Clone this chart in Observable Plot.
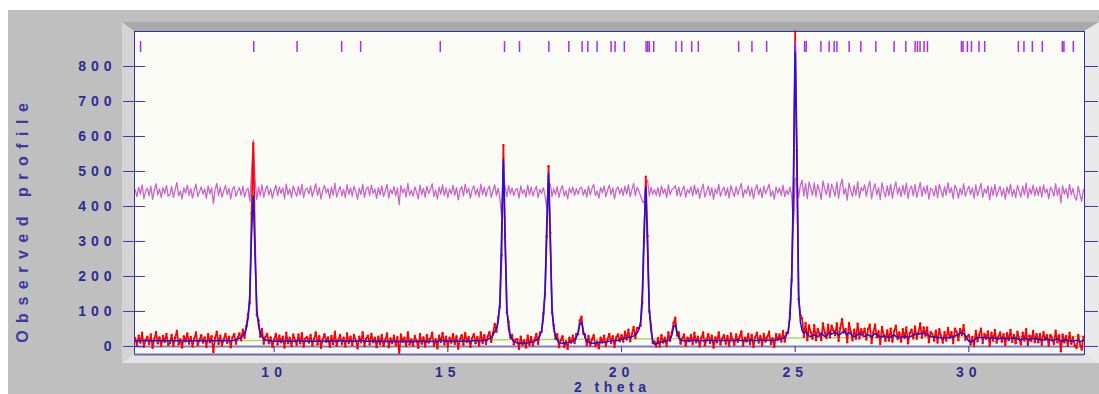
<!DOCTYPE html>
<html>
<head>
<meta charset="utf-8">
<script src="https://cdn.jsdelivr.net/npm/d3@7"></script>
<script src="https://cdn.jsdelivr.net/npm/@observablehq/plot@0.6"></script>
<style>
  html, body { margin:0; padding:0; }
  body { width:1099px; height:394px; overflow:hidden; position:relative; background:#ffffff;
         font-family:"Liberation Sans", Arial, sans-serif; }
  #bg { position:absolute; left:8px; top:10px; width:1091px; height:384px; background:#bfbfbf; }
  #bevel { position:absolute; left:122px; top:22px; width:977px; height:341px; box-sizing:border-box;
           border-top:9px solid #a9a9a9; border-left:12px solid #d4d4d4;
           border-right:15px solid #e9e9e9; border-bottom:9px solid #e3e3e3; background:#fbfbf5; }
  #chart { position:absolute; left:0; top:0; }
  #ylab { position:absolute; left:23px; top:223px; transform:translate(-50%,-50%) rotate(-90deg);
          white-space:nowrap; font-weight:bold; font-size:16px; letter-spacing:7.5px; padding-left:7.5px;
          color:#3a3aa2; line-height:1; }
  #xlab { position:absolute; left:610px; top:387px; transform:translate(-50%,-50%);
          white-space:nowrap; font-weight:bold; font-size:14px; letter-spacing:4.5px; padding-left:4.5px;
          color:#2c2c94; line-height:1; }
  .ticklab text { letter-spacing:5px; }
</style>
</head>
<body>
<div id="bg"></div>
<div id="bevel"></div>
<div id="chart"></div>
<div id="ylab">Observed profile</div>
<div id="xlab">2 theta</div>
<script>
// ---- data ----
const startAngle = 6.0;      // first 2θ sample
const stepAngle = 0.05;      // 2θ step

// calculated profile (counts), one row per degree of 2θ (6.00–6.95, 7.00–7.95, …)
const calcRows = [
  [16,16,16,16,17,17,16,16,16,16,16,16,16,16,16,16,16,16,16,16],
  [16,16,16,16,16,16,16,16,16,16,16,16,16,16,16,16,16,16,16,16],
  [16,16,16,16,16,16,16,16,16,16,16,16,16,16,16,16,17,18,19,21],
  [23,26,30,38,52,80,150,320,430,260,110,60,38,28,22,19,17,16,15,15],
  [15,15,15,15,15,15,15,15,15,15,15,15,15,16,17,16,15,15,15,15],
  [15,15,15,15,15,15,15,15,15,15,15,15,15,15,15,15,15,15,16,17],
  [16,15,15,15,15,15,15,15,15,16,18,16,15,15,15,15,15,15,15,15],
  [14,14,14,14,14,14,14,14,14,14,14,14,14,14,14,14,14,14,14,14],
  [14,14,14,14,14,14,14,14,14,14,14,14,14,14,14,16,18,16,15,15],
  [15,15,15,15,15,15,15,15,15,15,15,15,15,15,16,16,16,16,16,16],
  [16,17,18,20,23,27,33,42,50,70,130,330,535,300,110,50,30,20,15,12],
  [10,9,9,9,9,10,10,11,12,13,15,18,22,30,45,80,160,360,495,300],
  [110,50,28,18,12,10,9,9,10,11,12,13,15,18,25,40,62,70,45,25],
  [16,12,10,9,9,10,10,11,11,12,12,13,14,15,16,16,17,17,18,19],
  [20,22,24,25,26,27,28,30,33,38,48,70,150,330,455,280,110,45,15,6],
  [8,10,12,13,14,15,16,18,22,32,55,62,40,25,19,17,16,16,16,17],
  [17,17,18,17,16,17,17,16,16,17,17,18,17,17,16,16,17,17,17,17],
  [17,17,17,17,17,17,17,19,17,17,17,17,17,17,17,19,17,17,17,18],
  [18,18,18,18,18,18,18,18,18,19,20,21,22,23,26,32,45,80,200,480],
  [860,520,150,70,45,38,42,36,30,28,30,33,30,28,32,38,33,29,30,36],
  [40,35,38,42,36,32,35,40,45,38,34,40,36,30,28,30,34,38,35,30],
  [29,31,34,30,28,32,37,33,29,27,28,30,29,27,26,27,30,33,29,26],
  [25,26,28,30,27,26,28,30,32,34,36,35,37,36,38,35,34,31,29,28],
  [27,26,26,25,25,24,24,25,25,26,27,28,30,32,34,38,40,36,30,22],
  [15,12,14,18,22,24,26,25,24,26,25,24,23,24,25,24,23,22,23,24],
  [24,23,22,22,23,24,25,24,22,20,19,21,24,22,20,19,21,23,22,21],
  [20,19,18,19,21,22,20,18,17,18,20,21,19,16,15,17,19,18,16,15],
  [14,16,18,15,13,16,18]
];

// difference (observed − calculated), same sampling
const diffRows = [
  [8,-12,15,-5,22,-18,3,12,-9,18,-20,6,25,-7,10,-15,14,-3,20,-11],
  [-6,17,-14,9,28,-10,4,-19,13,-2,21,-8,11,-16,7,24,-12,2,16,-5],
  [10,-17,19,-4,13,-32,8,26,-9,15,-13,5,20,-6,12,-18,9,17,-11,4],
  [14,-8,18,-13,6,12,-25,60,150,40,-20,15,-10,22,-14,8,19,-7,11,-16],
  [5,21,-9,16,-3,13,-18,24,-6,10,-14,19,2,-11,17,-7,23,-15,8,12],
  [-4,18,-12,7,25,-9,14,-19,6,20,-2,11,-16,15,-8,27,-13,4,17,-10],
  [9,-15,22,-5,13,-11,18,3,-20,12,-6,24,-14,8,16,-9,21,-3,10,-17],
  [14,-7,19,-12,5,23,-16,9,-4,17,-10,13,-35,20,-1,11,-13,26,-8,6],
  [-11,16,2,-18,21,-6,12,-14,18,-3,9,25,-12,7,-19,15,-5,22,-9,13],
  [-15,10,-4,20,-8,14,-21,6,17,-10,23,-2,12,-16,8,19,-7,11,-13,24],
  [-6,15,-11,9,18,-14,5,22,-8,12,-17,-70,40,16,-12,20,-5,13,-9,7],
  [11,-16,19,-4,8,-13,21,-7,15,-10,6,18,-15,9,-3,14,-9,-45,20,25],
  [-12,10,-6,17,-14,8,20,-10,5,-18,13,-2,16,-8,11,-5,12,15,-8,9],
  [-13,18,-7,11,23,-9,4,-16,14,-1,19,-12,7,21,-6,13,-18,9,16,-4],
  [12,-8,18,-5,22,-12,8,26,-9,15,5,-10,-25,-30,30,35,-10,15,-5,8],
  [-8,14,-12,19,-3,10,-15,22,-6,8,12,20,-9,15,-11,6,18,-14,9,-2],
  [16,-10,21,-5,12,-17,7,24,-13,3,18,-8,14,-20,10,-4,23,-11,6,15],
  [-9,13,-16,20,2,-12,17,-6,11,26,-14,8,-3,19,-10,14,-18,9,22,-7],
  [12,-15,18,-4,9,24,-11,5,-19,16,-2,13,-8,21,-12,7,-6,15,-10,-90],
  [40,40,-15,20,35,-10,25,-18,30,12,-8,28,-12,22,5,-20,33,10,-6,26],
  [-14,24,8,-10,30,-16,18,38,-5,12,-22,27,6,-12,20,-8,31,-15,14,4],
  [22,-11,16,32,-18,9,25,-7,14,-20,28,3,-13,19,-9,24,-16,11,30,-5],
  [15,-12,21,-6,27,-17,10,18,-9,23,-14,6,29,-11,16,-4,20,-19,12,8],
  [-10,19,-15,24,5,-13,17,-8,28,-2,14,-18,21,9,-16,12,-7,25,-11,6],
  [18,-6,13,-17,22,-9,7,26,-14,10,-3,19,-21,15,-8,23,-12,5,17,-10],
  [11,-19,16,-4,24,-11,8,-15,20,3,-13,18,-7,27,-16,12,-5,21,-10,14],
  [-8,17,-13,22,-2,10,-18,15,6,-11,25,-9,13,-30,19,-5,11,-16,23,-7],
  [12,-14,-22,18,-6,-25,9]
];
const diffOffset = 440;     // difference curve is drawn shifted up

// background (green) knots
const bgAngle = [6, 10, 15, 20, 25, 30, 33.3];
const bgCount = [16, 17, 18, 21, 24, 27, 29];

// reflection positions (tick marks at top)
const reflections = [6.155, 9.413, 10.661, 11.944, 12.49, 14.783, 16.632, 17.064, 17.909, 18.484,
  18.867, 19.031, 19.298, 19.701, 19.816, 20.083, 20.708, 20.757, 20.802, 20.929, 21.57, 21.734,
  22.022, 22.212, 23.374, 23.756, 24.179, 25.001, 25.272, 25.318, 25.741, 25.979, 26.123, 26.201,
  26.555, 26.891, 27.323, 27.849, 28.185, 28.453, 28.522, 28.596, 28.711, 28.809, 29.787, 29.833,
  29.96, 30.075, 30.293, 30.457, 31.426, 31.587, 31.829, 32.116, 32.692, 32.738, 33.008];

const xTicks = [10, 15, 20, 25, 30];
const yTicks = [0, 100, 200, 300, 400, 500, 600, 700, 800];

// ---- build table ----
const calc = calcRows.flat();
const diff = diffRows.flat();
const profile = calc.map((c, i) => ({
  t: startAngle + i * stepAngle,
  calc: c,
  obs: c + diff[i],
  diffShown: diff[i] + diffOffset
}));
const background = bgAngle.map((t, i) => ({t, y: bgCount[i]}));

const labelFont = {fontSize: 14, fontWeight: "bold", fontFamily: "Liberation Sans, Arial, sans-serif",
                   fill: "#2c2c94", className: "ticklab"};

const chart = Plot.plot({
  width: 1099, height: 394,
  marginLeft: 134, marginRight: 15, marginTop: 31, marginBottom: 40,
  style: {background: "transparent", overflow: "visible"},
  x: {domain: [5.98, 33.33], label: null, axis: null},
  y: {domain: [-23, 900], label: null, axis: null},
  marks: [
    Plot.ruleY([0], {stroke: "#7c7cc6", strokeWidth: 2}),
    Plot.ruleX(xTicks, {stroke: "#4848b0", strokeWidth: 1.2, insetTop: 315, insetBottom: 2}),
    Plot.line(profile, {x: "t", y: "diffShown", stroke: "#c866ca", strokeWidth: 1.3}),
    Plot.line(background, {x: "t", y: "y", stroke: "#a8d870", strokeWidth: 1.5}),
    Plot.line(profile, {x: "t", y: "obs", stroke: "#ff0000", strokeWidth: 1.7}),
    Plot.dot(profile, {x: "t", y: "obs", fill: "#ff0000", r: 1.2}),
    Plot.line(profile, {x: "t", y: "calc", stroke: "#1414f0", strokeWidth: 1.5}),
    Plot.ruleX(reflections, {stroke: "#a52cf2", strokeWidth: 1.5, insetTop: 10, insetBottom: 302}),
    Plot.frame({stroke: "#3333a5"}),
    Plot.ruleY([-23], {stroke: "#6a6ab8", strokeWidth: 2}),
    // left and right y tick marks
    Plot.tickY(yTicks, {y: d => d, stroke: "#3a3aa8", insetLeft: -11, insetRight: 939}),
    Plot.tickY(yTicks, {y: d => d, stroke: "#3a3aa8", insetLeft: 950, insetRight: -14}),
    // tick labels
    Plot.text(yTicks, {y: d => d, text: d => String(d), frameAnchor: "left", textAnchor: "end", dx: -18, ...labelFont}),
    Plot.text(xTicks, {x: d => d, text: d => String(d), frameAnchor: "bottom", lineAnchor: "middle", dy: 18, ...labelFont})
  ]
});
document.getElementById("chart").appendChild(chart);
</script>
</body>
</html>
